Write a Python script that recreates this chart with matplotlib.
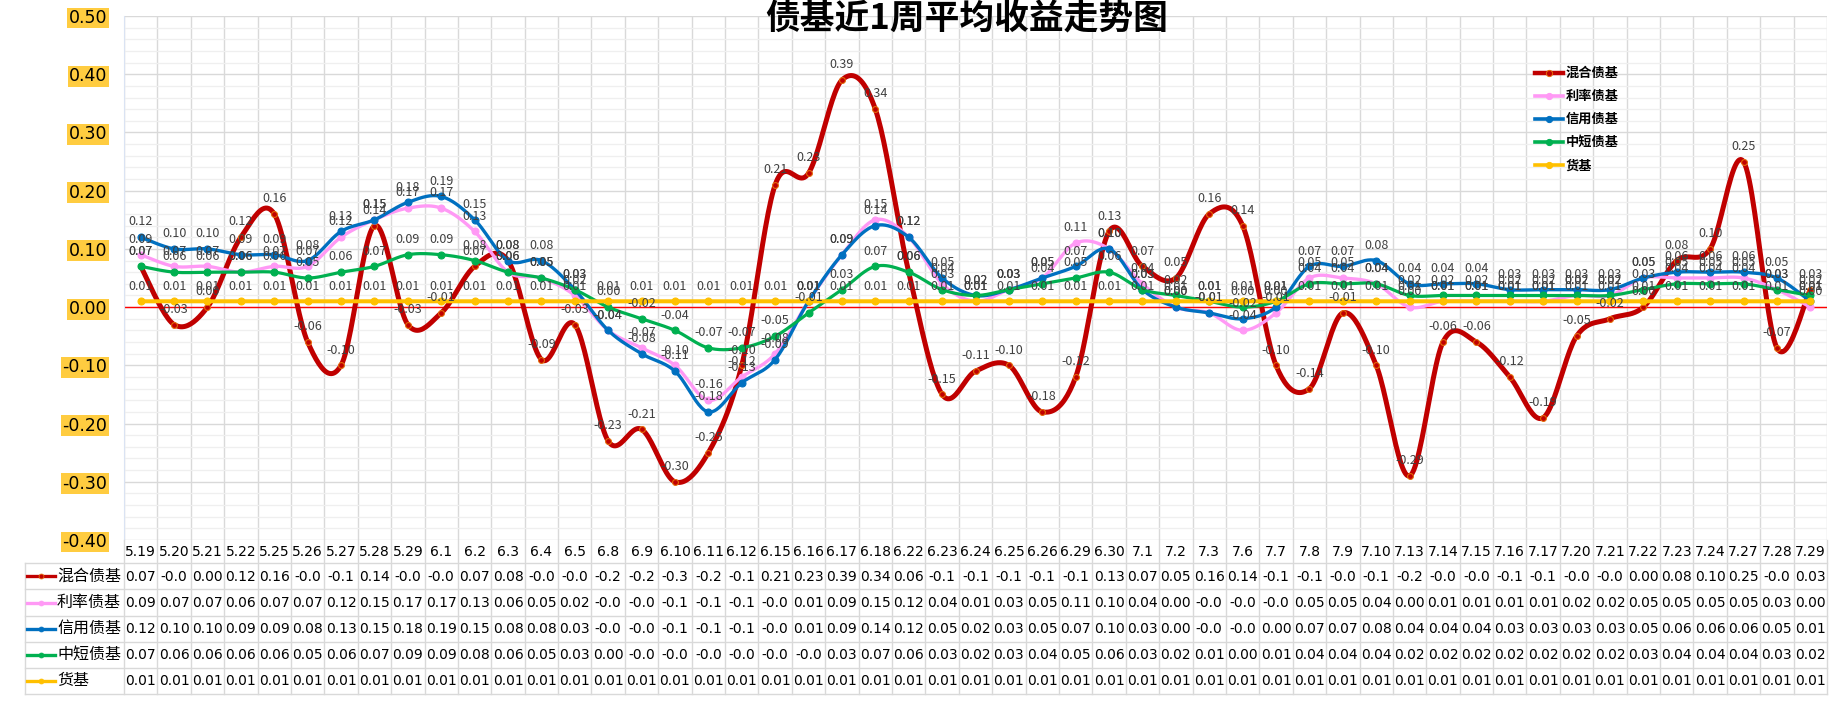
import matplotlib
matplotlib.use('Agg')
import matplotlib.pyplot as plt
import matplotlib.transforms as mtransforms
import numpy as np
from matplotlib.lines import Line2D

plt.rcParams['font.family'] = ['Noto Sans CJK SC', 'DejaVu Sans']

title = '债基近1周平均收益走势图'
cats = ['5.19', '5.20', '5.21', '5.22', '5.25', '5.26', '5.27', '5.28', '5.29', '6.1', '6.2',
        '6.3', '6.4', '6.5', '6.8', '6.9', '6.10', '6.11', '6.12', '6.15', '6.16', '6.17',
        '6.18', '6.22', '6.23', '6.24', '6.25', '6.26', '6.29', '6.30', '7.1', '7.2', '7.3',
        '7.6', '7.7', '7.8', '7.9', '7.10', '7.13', '7.14', '7.15', '7.16', '7.17', '7.20',
        '7.21', '7.22', '7.23', '7.24', '7.27', '7.28', '7.29']

mixed = [0.07, -0.03, 0.00, 0.12, 0.16, -0.06, -0.10, 0.14, -0.03, -0.01, 0.07, 0.08, -0.09,
         -0.03, -0.23, -0.21, -0.30, -0.25, -0.10, 0.21, 0.23, 0.39, 0.34, 0.06, -0.15, -0.11,
         -0.10, -0.18, -0.12, 0.13, 0.07, 0.05, 0.16, 0.14, -0.10, -0.14, -0.01, -0.10, -0.29,
         -0.06, -0.06, -0.12, -0.19, -0.05, -0.02, 0.00, 0.08, 0.10, 0.25, -0.07, 0.03]
rate = [0.09, 0.07, 0.07, 0.06, 0.07, 0.07, 0.12, 0.15, 0.17, 0.17, 0.13, 0.06, 0.05, 0.02,
        -0.04, -0.07, -0.10, -0.16, -0.12, -0.08, 0.01, 0.09, 0.15, 0.12, 0.04, 0.01, 0.03,
        0.05, 0.11, 0.10, 0.04, 0.00, -0.01, -0.04, -0.01, 0.05, 0.05, 0.04, 0.00, 0.01, 0.01,
        0.01, 0.01, 0.02, 0.02, 0.05, 0.05, 0.05, 0.05, 0.03, 0.00]
credit = [0.12, 0.10, 0.10, 0.09, 0.09, 0.08, 0.13, 0.15, 0.18, 0.19, 0.15, 0.08, 0.08, 0.03,
          -0.04, -0.08, -0.11, -0.18, -0.13, -0.09, 0.01, 0.09, 0.14, 0.12, 0.05, 0.02, 0.03,
          0.05, 0.07, 0.10, 0.03, 0.00, -0.01, -0.02, 0.00, 0.07, 0.07, 0.08, 0.04, 0.04, 0.04,
          0.03, 0.03, 0.03, 0.03, 0.05, 0.06, 0.06, 0.06, 0.05, 0.01]
short = [0.07, 0.06, 0.06, 0.06, 0.06, 0.05, 0.06, 0.07, 0.09, 0.09, 0.08, 0.06, 0.05, 0.03,
         0.00, -0.02, -0.04, -0.07, -0.07, -0.05, -0.01, 0.03, 0.07, 0.06, 0.03, 0.02, 0.03,
         0.04, 0.05, 0.06, 0.03, 0.02, 0.01, 0.00, 0.01, 0.04, 0.04, 0.04, 0.02, 0.02, 0.02,
         0.02, 0.02, 0.02, 0.02, 0.03, 0.04, 0.04, 0.04, 0.03, 0.02]
money = [0.01, 0.01, 0.01, 0.01, 0.01, 0.01, 0.01, 0.01, 0.01, 0.01, 0.01, 0.01, 0.01, 0.01,
         0.01, 0.01, 0.01, 0.01, 0.01, 0.01, 0.01, 0.01, 0.01, 0.01, 0.01, 0.01, 0.01, 0.01,
         0.01, 0.01, 0.01, 0.01, 0.01, 0.01, 0.01, 0.01, 0.01, 0.01, 0.01, 0.01, 0.01, 0.01,
         0.01, 0.01, 0.01, 0.01, 0.01, 0.01, 0.01, 0.01, 0.01]

names = ['混合债基', '利率债基', '信用债基', '中短债基', '货基']
series = [mixed, rate, credit, short, money]
colors = ['#C00000', '#FF99F5', '#0070C0', '#00B050', '#FFC000']
lws = [3.6, 2.4, 2.4, 2.3, 2.9]
msz = [4.2, 5.0, 5.0, 5.0, 5.0]
mecs = ['#E46C0A', '#FF99F5', '#0070C0', '#00B050', '#FFC000']

W, H = 1840, 706
fig = plt.figure(figsize=(W / 100, H / 100), dpi=100)
L, R, T, B = 124, 1827, 16, 540
ax = fig.add_axes([L / W, 1 - B / H, (R - L) / W, (B - T) / H])
n = len(cats)
x = np.arange(n)
ax.set_xlim(-0.5, n - 0.5)
ax.set_ylim(-0.40, 0.50)

# grid
yt = np.round(np.arange(-0.40, 0.501, 0.10), 2)
ax.set_yticks(yt)
ax.set_yticks(np.round(np.arange(-0.40, 0.501, 0.02), 2), minor=True)
ax.set_xticks(np.arange(-0.5, n, 1.0))
ax.grid(axis='y', which='major', color='#D9D9D9', lw=1.0, zorder=0)
ax.grid(axis='y', which='minor', color='#EFEFEF', lw=0.9, zorder=0)
ax.grid(axis='x', which='major', color='#D9D9D9', lw=1.0, zorder=0)
ax.set_axisbelow(True)
ax.set_xticklabels([])
ax.tick_params(axis='both', which='both', length=0)
ax.tick_params(axis='y', pad=12)
ax.set_yticklabels([f'{abs(v):.2f}' if abs(v) < 1e-9 else f'{v:.2f}' for v in yt],
                   fontsize=12.5, fontfamily='DejaVu Sans')
for lab in ax.get_yticklabels():
    lab.set_bbox(dict(facecolor='#FFCC40', edgecolor='none', pad=1.0))
for s in ['top', 'right', 'bottom']:
    ax.spines[s].set_visible(False)
ax.spines['left'].set_color('#DAE3F3')

ax.axhline(0, color='#FF0000', lw=1.0, zorder=1)


def smooth(xs, ys, k=24):
    P = np.column_stack([xs, ys]).astype(float)
    out = []
    m = len(P)
    for i in range(m - 1):
        p0 = P[i - 1] if i > 0 else P[i]
        p1, p2 = P[i], P[i + 1]
        p3 = P[i + 2] if i + 2 < m else P[i + 1]
        c1 = p1 + (p2 - p0) / 6.0
        c2 = p2 - (p3 - p1) / 6.0
        t = np.linspace(0, 1, k, endpoint=(i == m - 2))[:, None]
        seg = ((1 - t) ** 3) * p1 + 3 * ((1 - t) ** 2) * t * c1 + 3 * (1 - t) * t ** 2 * c2 + t ** 3 * p2
        out.append(seg)
    out = np.vstack(out)
    return out[:, 0], out[:, 1]


for k, (vals, c) in enumerate(zip(series, colors)):
    sx, sy = smooth(x, vals)
    ax.plot(sx, sy, color=c, lw=lws[k], solid_capstyle='round', zorder=3 + k)
    ax.plot(x, vals, ls='none', marker='o', ms=msz[k], mfc=c, mec=mecs[k], mew=0.8,
            zorder=3 + k)

for k, vals in enumerate(series):
    for i, v in enumerate(vals):
        ax.annotate(f'{v:.2f}', (i, v), xytext=(0, 11), textcoords='offset points',
                    ha='center', va='center', fontsize=9, color='#404040', zorder=20,
                    annotation_clip=False)

# title
fig.text(967 / W, 1 - 19 / H, title, ha='center', va='center', fontsize=25,
         fontweight='bold', color='#000000')

# legend (manual, in figure pixels)
ov = fig.add_axes([0, 0, 1, 1], zorder=10)
ov.set_xlim(0, W)
ov.set_ylim(H, 0)
ov.axis('off')
ov.patch.set_visible(False)
for k, name in enumerate(names):
    yy = 73 + k * 23.1
    ov.add_line(Line2D([1535, 1563], [yy, yy], color=colors[k], lw=2.6 if k else 3.2))
    ov.plot([1549], [yy], marker='o', ms=4.5, mfc=colors[k], mec=mecs[k], mew=0.7)
    ov.text(1566, yy, name, ha='left', va='center', fontsize=9.5, fontweight='bold',
            color='#000000')

# data table below the chart
bt = mtransforms.blended_transform_factory(ax.transData, ov.transData)
xl = -0.5 - (L - 25) / ((R - L) / n)
row_edges = [540, 563.3, 589.3, 615.7, 641.7, 667.7, 694]
gc = '#D9D9D9'
for j in range(n + 1):
    ov.plot([j - 0.5, j - 0.5], [540, 694], color=gc, lw=1.0, transform=bt, clip_on=False)
ov.plot([xl, xl], [563.3, 694], color=gc, lw=1.0, transform=bt, clip_on=False)
for yy in row_edges[1:]:
    ov.plot([xl, n - 0.5], [yy, yy], color=gc, lw=1.0, transform=bt, clip_on=False)

for i, c in enumerate(cats):
    ov.text(i, 552, c, transform=bt, ha='center', va='center', fontsize=10,
            fontfamily='DejaVu Sans', color='#000000')


def cell(v):
    s = f'{v:.2f}'
    if v < 0:
        s = s[:4]
    return s


for k, (vals, name) in enumerate(zip(series, names)):
    yc = (row_edges[k + 1] + row_edges[k + 2]) / 2
    ov.add_line(Line2D([27, 55], [yc, yc], color=colors[k], lw=2.4))
    ov.plot([41], [yc], marker='o', ms=3.5, mfc=colors[k], mec=mecs[k], mew=0.6)
    ov.text(57, yc, name, ha='left', va='center', fontsize=11.5, color='#000000')
    for i, v in enumerate(vals):
        ov.text(i, yc + 0.5, cell(v), transform=bt, ha='center', va='center', fontsize=10,
                fontfamily='DejaVu Sans', color='#000000')

fig.savefig('out.png', dpi=100, facecolor='white')
